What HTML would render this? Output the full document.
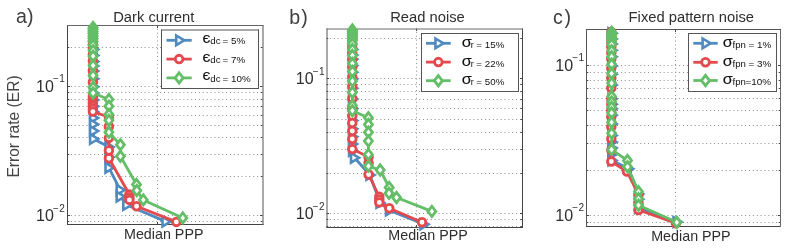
<!DOCTYPE html><html><head><meta charset="utf-8"><style>html,body{margin:0;padding:0;background:#fff;overflow:hidden}svg{display:block;will-change:transform}</style></head><body><svg width="791" height="252" viewBox="0 0 791 252">
<rect width="791" height="252" fill="#fff"/>
<line x1="70.88" y1="221.5" x2="261.00" y2="221.5" stroke="#8c8c8c" stroke-width="1" stroke-dasharray="1 2.88"/>
<line x1="70.88" y1="176.5" x2="261.00" y2="176.5" stroke="#8c8c8c" stroke-width="1" stroke-dasharray="1 2.88"/>
<line x1="70.88" y1="154.5" x2="261.00" y2="154.5" stroke="#8c8c8c" stroke-width="1" stroke-dasharray="1 2.88"/>
<line x1="70.88" y1="137.5" x2="261.00" y2="137.5" stroke="#8c8c8c" stroke-width="1" stroke-dasharray="1 2.88"/>
<line x1="70.88" y1="125.5" x2="261.00" y2="125.5" stroke="#8c8c8c" stroke-width="1" stroke-dasharray="1 2.88"/>
<line x1="70.88" y1="115.5" x2="261.00" y2="115.5" stroke="#8c8c8c" stroke-width="1" stroke-dasharray="1 2.88"/>
<line x1="70.88" y1="106.5" x2="261.00" y2="106.5" stroke="#8c8c8c" stroke-width="1" stroke-dasharray="1 2.88"/>
<line x1="70.88" y1="99.5" x2="261.00" y2="99.5" stroke="#8c8c8c" stroke-width="1" stroke-dasharray="1 2.88"/>
<line x1="70.88" y1="92.5" x2="261.00" y2="92.5" stroke="#8c8c8c" stroke-width="1" stroke-dasharray="1 2.88"/>
<line x1="70.88" y1="47.5" x2="261.00" y2="47.5" stroke="#8c8c8c" stroke-width="1" stroke-dasharray="1 2.88"/>
<line x1="70.88" y1="86.5" x2="261.00" y2="86.5" stroke="#8c8c8c" stroke-width="1" stroke-dasharray="1 2.88"/>
<line x1="70.88" y1="215.5" x2="261.00" y2="215.5" stroke="#8c8c8c" stroke-width="1" stroke-dasharray="1 2.88"/>
<line x1="157.5" y1="28.88" x2="157.5" y2="223.00" stroke="#8c8c8c" stroke-width="1" stroke-dasharray="1 2.88"/>
<line x1="67.5" y1="221.5" x2="69.3" y2="221.5" stroke="#444444" stroke-width="1"/>
<line x1="262.5" y1="221.5" x2="260.7" y2="221.5" stroke="#444444" stroke-width="1"/>
<line x1="67.5" y1="176.5" x2="69.3" y2="176.5" stroke="#444444" stroke-width="1"/>
<line x1="262.5" y1="176.5" x2="260.7" y2="176.5" stroke="#444444" stroke-width="1"/>
<line x1="67.5" y1="154.5" x2="69.3" y2="154.5" stroke="#444444" stroke-width="1"/>
<line x1="262.5" y1="154.5" x2="260.7" y2="154.5" stroke="#444444" stroke-width="1"/>
<line x1="67.5" y1="137.5" x2="69.3" y2="137.5" stroke="#444444" stroke-width="1"/>
<line x1="262.5" y1="137.5" x2="260.7" y2="137.5" stroke="#444444" stroke-width="1"/>
<line x1="67.5" y1="125.5" x2="69.3" y2="125.5" stroke="#444444" stroke-width="1"/>
<line x1="262.5" y1="125.5" x2="260.7" y2="125.5" stroke="#444444" stroke-width="1"/>
<line x1="67.5" y1="115.5" x2="69.3" y2="115.5" stroke="#444444" stroke-width="1"/>
<line x1="262.5" y1="115.5" x2="260.7" y2="115.5" stroke="#444444" stroke-width="1"/>
<line x1="67.5" y1="106.5" x2="69.3" y2="106.5" stroke="#444444" stroke-width="1"/>
<line x1="262.5" y1="106.5" x2="260.7" y2="106.5" stroke="#444444" stroke-width="1"/>
<line x1="67.5" y1="99.5" x2="69.3" y2="99.5" stroke="#444444" stroke-width="1"/>
<line x1="262.5" y1="99.5" x2="260.7" y2="99.5" stroke="#444444" stroke-width="1"/>
<line x1="67.5" y1="92.5" x2="69.3" y2="92.5" stroke="#444444" stroke-width="1"/>
<line x1="262.5" y1="92.5" x2="260.7" y2="92.5" stroke="#444444" stroke-width="1"/>
<line x1="67.5" y1="47.5" x2="69.3" y2="47.5" stroke="#444444" stroke-width="1"/>
<line x1="262.5" y1="47.5" x2="260.7" y2="47.5" stroke="#444444" stroke-width="1"/>
<line x1="67.5" y1="86.5" x2="70.0" y2="86.5" stroke="#444444" stroke-width="1"/>
<line x1="262.5" y1="86.5" x2="260.0" y2="86.5" stroke="#444444" stroke-width="1"/>
<line x1="67.5" y1="215.5" x2="70.0" y2="215.5" stroke="#444444" stroke-width="1"/>
<line x1="262.5" y1="215.5" x2="260.0" y2="215.5" stroke="#444444" stroke-width="1"/>
<line x1="157.5" y1="25.5" x2="157.5" y2="28.0" stroke="#444444" stroke-width="1"/>
<line x1="157.5" y1="224.5" x2="157.5" y2="222.0" stroke="#444444" stroke-width="1"/>
<path d="M67.5,25.0V225.0" fill="none" stroke="#444" stroke-width="1"/>
<path d="M67.0,224.5H263.5" fill="none" stroke="#444" stroke-width="1"/>
<path d="M263.0,225.0V25.0" fill="none" stroke="#555" stroke-width="1"/>
<path d="M263.5,25.5H67.0" fill="none" stroke="#666" stroke-width="1"/>
<line x1="329.88" y1="226.5" x2="521.00" y2="226.5" stroke="#8c8c8c" stroke-width="1" stroke-dasharray="1 2.88"/>
<line x1="329.88" y1="219.5" x2="521.00" y2="219.5" stroke="#8c8c8c" stroke-width="1" stroke-dasharray="1 2.88"/>
<line x1="329.88" y1="173.5" x2="521.00" y2="173.5" stroke="#8c8c8c" stroke-width="1" stroke-dasharray="1 2.88"/>
<line x1="329.88" y1="149.5" x2="521.00" y2="149.5" stroke="#8c8c8c" stroke-width="1" stroke-dasharray="1 2.88"/>
<line x1="329.88" y1="132.5" x2="521.00" y2="132.5" stroke="#8c8c8c" stroke-width="1" stroke-dasharray="1 2.88"/>
<line x1="329.88" y1="119.5" x2="521.00" y2="119.5" stroke="#8c8c8c" stroke-width="1" stroke-dasharray="1 2.88"/>
<line x1="329.88" y1="108.5" x2="521.00" y2="108.5" stroke="#8c8c8c" stroke-width="1" stroke-dasharray="1 2.88"/>
<line x1="329.88" y1="99.5" x2="521.00" y2="99.5" stroke="#8c8c8c" stroke-width="1" stroke-dasharray="1 2.88"/>
<line x1="329.88" y1="91.5" x2="521.00" y2="91.5" stroke="#8c8c8c" stroke-width="1" stroke-dasharray="1 2.88"/>
<line x1="329.88" y1="84.5" x2="521.00" y2="84.5" stroke="#8c8c8c" stroke-width="1" stroke-dasharray="1 2.88"/>
<line x1="329.88" y1="38.5" x2="521.00" y2="38.5" stroke="#8c8c8c" stroke-width="1" stroke-dasharray="1 2.88"/>
<line x1="329.88" y1="78.5" x2="521.00" y2="78.5" stroke="#8c8c8c" stroke-width="1" stroke-dasharray="1 2.88"/>
<line x1="329.88" y1="213.5" x2="521.00" y2="213.5" stroke="#8c8c8c" stroke-width="1" stroke-dasharray="1 2.88"/>
<line x1="416.5" y1="31.88" x2="416.5" y2="226.00" stroke="#8c8c8c" stroke-width="1" stroke-dasharray="1 2.88"/>
<line x1="326.5" y1="226.5" x2="328.3" y2="226.5" stroke="#444444" stroke-width="1"/>
<line x1="522.5" y1="226.5" x2="520.7" y2="226.5" stroke="#444444" stroke-width="1"/>
<line x1="326.5" y1="219.5" x2="328.3" y2="219.5" stroke="#444444" stroke-width="1"/>
<line x1="522.5" y1="219.5" x2="520.7" y2="219.5" stroke="#444444" stroke-width="1"/>
<line x1="326.5" y1="173.5" x2="328.3" y2="173.5" stroke="#444444" stroke-width="1"/>
<line x1="522.5" y1="173.5" x2="520.7" y2="173.5" stroke="#444444" stroke-width="1"/>
<line x1="326.5" y1="149.5" x2="328.3" y2="149.5" stroke="#444444" stroke-width="1"/>
<line x1="522.5" y1="149.5" x2="520.7" y2="149.5" stroke="#444444" stroke-width="1"/>
<line x1="326.5" y1="132.5" x2="328.3" y2="132.5" stroke="#444444" stroke-width="1"/>
<line x1="522.5" y1="132.5" x2="520.7" y2="132.5" stroke="#444444" stroke-width="1"/>
<line x1="326.5" y1="119.5" x2="328.3" y2="119.5" stroke="#444444" stroke-width="1"/>
<line x1="522.5" y1="119.5" x2="520.7" y2="119.5" stroke="#444444" stroke-width="1"/>
<line x1="326.5" y1="108.5" x2="328.3" y2="108.5" stroke="#444444" stroke-width="1"/>
<line x1="522.5" y1="108.5" x2="520.7" y2="108.5" stroke="#444444" stroke-width="1"/>
<line x1="326.5" y1="99.5" x2="328.3" y2="99.5" stroke="#444444" stroke-width="1"/>
<line x1="522.5" y1="99.5" x2="520.7" y2="99.5" stroke="#444444" stroke-width="1"/>
<line x1="326.5" y1="91.5" x2="328.3" y2="91.5" stroke="#444444" stroke-width="1"/>
<line x1="522.5" y1="91.5" x2="520.7" y2="91.5" stroke="#444444" stroke-width="1"/>
<line x1="326.5" y1="84.5" x2="328.3" y2="84.5" stroke="#444444" stroke-width="1"/>
<line x1="522.5" y1="84.5" x2="520.7" y2="84.5" stroke="#444444" stroke-width="1"/>
<line x1="326.5" y1="38.5" x2="328.3" y2="38.5" stroke="#444444" stroke-width="1"/>
<line x1="522.5" y1="38.5" x2="520.7" y2="38.5" stroke="#444444" stroke-width="1"/>
<line x1="326.5" y1="78.5" x2="329.0" y2="78.5" stroke="#444444" stroke-width="1"/>
<line x1="522.5" y1="78.5" x2="520.0" y2="78.5" stroke="#444444" stroke-width="1"/>
<line x1="326.5" y1="213.5" x2="329.0" y2="213.5" stroke="#444444" stroke-width="1"/>
<line x1="522.5" y1="213.5" x2="520.0" y2="213.5" stroke="#444444" stroke-width="1"/>
<line x1="416.5" y1="28.5" x2="416.5" y2="31.0" stroke="#444444" stroke-width="1"/>
<line x1="416.5" y1="227.5" x2="416.5" y2="225.0" stroke="#444444" stroke-width="1"/>
<path d="M327.0,28.5V228.0" fill="none" stroke="#555" stroke-width="1"/>
<path d="M326.5,227.5H523.0" fill="none" stroke="#444" stroke-width="1"/>
<path d="M522.5,228.0V28.5" fill="none" stroke="#444" stroke-width="1"/>
<path d="M523.0,29.0H326.5" fill="none" stroke="#6a6a6a" stroke-width="1"/>
<line x1="589.88" y1="222.5" x2="779.00" y2="222.5" stroke="#8c8c8c" stroke-width="1" stroke-dasharray="1 2.88"/>
<line x1="589.88" y1="170.5" x2="779.00" y2="170.5" stroke="#8c8c8c" stroke-width="1" stroke-dasharray="1 2.88"/>
<line x1="589.88" y1="143.5" x2="779.00" y2="143.5" stroke="#8c8c8c" stroke-width="1" stroke-dasharray="1 2.88"/>
<line x1="589.88" y1="125.5" x2="779.00" y2="125.5" stroke="#8c8c8c" stroke-width="1" stroke-dasharray="1 2.88"/>
<line x1="589.88" y1="110.5" x2="779.00" y2="110.5" stroke="#8c8c8c" stroke-width="1" stroke-dasharray="1 2.88"/>
<line x1="589.88" y1="98.5" x2="779.00" y2="98.5" stroke="#8c8c8c" stroke-width="1" stroke-dasharray="1 2.88"/>
<line x1="589.88" y1="88.5" x2="779.00" y2="88.5" stroke="#8c8c8c" stroke-width="1" stroke-dasharray="1 2.88"/>
<line x1="589.88" y1="80.5" x2="779.00" y2="80.5" stroke="#8c8c8c" stroke-width="1" stroke-dasharray="1 2.88"/>
<line x1="589.88" y1="72.5" x2="779.00" y2="72.5" stroke="#8c8c8c" stroke-width="1" stroke-dasharray="1 2.88"/>
<line x1="589.88" y1="65.5" x2="779.00" y2="65.5" stroke="#8c8c8c" stroke-width="1" stroke-dasharray="1 2.88"/>
<line x1="589.88" y1="215.5" x2="779.00" y2="215.5" stroke="#8c8c8c" stroke-width="1" stroke-dasharray="1 2.88"/>
<line x1="675.5" y1="32.88" x2="675.5" y2="225.00" stroke="#8c8c8c" stroke-width="1" stroke-dasharray="1 2.88"/>
<line x1="586.5" y1="222.5" x2="588.3" y2="222.5" stroke="#444444" stroke-width="1"/>
<line x1="780.5" y1="222.5" x2="778.7" y2="222.5" stroke="#444444" stroke-width="1"/>
<line x1="586.5" y1="170.5" x2="588.3" y2="170.5" stroke="#444444" stroke-width="1"/>
<line x1="780.5" y1="170.5" x2="778.7" y2="170.5" stroke="#444444" stroke-width="1"/>
<line x1="586.5" y1="143.5" x2="588.3" y2="143.5" stroke="#444444" stroke-width="1"/>
<line x1="780.5" y1="143.5" x2="778.7" y2="143.5" stroke="#444444" stroke-width="1"/>
<line x1="586.5" y1="125.5" x2="588.3" y2="125.5" stroke="#444444" stroke-width="1"/>
<line x1="780.5" y1="125.5" x2="778.7" y2="125.5" stroke="#444444" stroke-width="1"/>
<line x1="586.5" y1="110.5" x2="588.3" y2="110.5" stroke="#444444" stroke-width="1"/>
<line x1="780.5" y1="110.5" x2="778.7" y2="110.5" stroke="#444444" stroke-width="1"/>
<line x1="586.5" y1="98.5" x2="588.3" y2="98.5" stroke="#444444" stroke-width="1"/>
<line x1="780.5" y1="98.5" x2="778.7" y2="98.5" stroke="#444444" stroke-width="1"/>
<line x1="586.5" y1="88.5" x2="588.3" y2="88.5" stroke="#444444" stroke-width="1"/>
<line x1="780.5" y1="88.5" x2="778.7" y2="88.5" stroke="#444444" stroke-width="1"/>
<line x1="586.5" y1="80.5" x2="588.3" y2="80.5" stroke="#444444" stroke-width="1"/>
<line x1="780.5" y1="80.5" x2="778.7" y2="80.5" stroke="#444444" stroke-width="1"/>
<line x1="586.5" y1="72.5" x2="588.3" y2="72.5" stroke="#444444" stroke-width="1"/>
<line x1="780.5" y1="72.5" x2="778.7" y2="72.5" stroke="#444444" stroke-width="1"/>
<line x1="586.5" y1="65.5" x2="589.0" y2="65.5" stroke="#444444" stroke-width="1"/>
<line x1="780.5" y1="65.5" x2="778.0" y2="65.5" stroke="#444444" stroke-width="1"/>
<line x1="586.5" y1="215.5" x2="589.0" y2="215.5" stroke="#444444" stroke-width="1"/>
<line x1="780.5" y1="215.5" x2="778.0" y2="215.5" stroke="#444444" stroke-width="1"/>
<line x1="675.5" y1="29.5" x2="675.5" y2="32.0" stroke="#444444" stroke-width="1"/>
<line x1="675.5" y1="226.5" x2="675.5" y2="224.0" stroke="#444444" stroke-width="1"/>
<path d="M586.5,29.0V227.0" fill="none" stroke="#555" stroke-width="1"/>
<path d="M586.0,226.5H781.0" fill="none" stroke="#444" stroke-width="1"/>
<path d="M780.5,227.0V29.0" fill="none" stroke="#666" stroke-width="1"/>
<path d="M781.0,29.5H586.0" fill="none" stroke="#555" stroke-width="1"/>
<text x="36.0" y="91.8" font-size="16" fill="#2e2e2e" font-family="Liberation Sans, sans-serif">10<tspan font-size="10" dy="-9.4" dx="-0.9">&#8722;</tspan><tspan font-size="10" dx="0.5">1</tspan></text>
<text x="36.0" y="221.0" font-size="16" fill="#2e2e2e" font-family="Liberation Sans, sans-serif">10<tspan font-size="10" dy="-9.4" dx="-0.9">&#8722;</tspan><tspan font-size="10" dx="0.5">2</tspan></text>
<text x="295.8" y="84.0" font-size="16" fill="#2e2e2e" font-family="Liberation Sans, sans-serif">10<tspan font-size="10" dy="-9.4" dx="-0.9">&#8722;</tspan><tspan font-size="10" dx="0.5">1</tspan></text>
<text x="295.8" y="219.0" font-size="16" fill="#2e2e2e" font-family="Liberation Sans, sans-serif">10<tspan font-size="10" dy="-9.4" dx="-0.9">&#8722;</tspan><tspan font-size="10" dx="0.5">2</tspan></text>
<text x="555.3" y="70.8" font-size="16" fill="#2e2e2e" font-family="Liberation Sans, sans-serif">10<tspan font-size="10" dy="-9.4" dx="-0.9">&#8722;</tspan><tspan font-size="10" dx="0.5">1</tspan></text>
<text x="555.3" y="220.8" font-size="16" fill="#2e2e2e" font-family="Liberation Sans, sans-serif">10<tspan font-size="10" dy="-9.4" dx="-0.9">&#8722;</tspan><tspan font-size="10" dx="0.5">2</tspan></text>
<path d="M93.60,49.50 L93.60,55.50 L93.60,61.60 L93.60,65.90 L93.60,71.10 L93.60,78.80 L93.60,86.70 L93.60,93.00 L93.60,100.00 L93.60,106.30 L93.60,112.00 L93.60,118.00 L93.60,124.30 L93.60,131.00 L93.60,139.00 L109.00,147.00 L109.00,157.00 L109.00,167.80 L120.20,190.00 L120.20,196.60 L126.80,205.00 L166.00,221.60" fill="none" stroke="#4f8ac0" stroke-width="2.8" stroke-linejoin="round" stroke-linecap="round"/>
<path d="M90.10,44.70L98.10,49.50L90.10,54.30Z" fill="#fff" stroke="#4f8ac0" stroke-width="2.6" stroke-linejoin="miter"/>
<path d="M90.10,50.70L98.10,55.50L90.10,60.30Z" fill="#fff" stroke="#4f8ac0" stroke-width="2.6" stroke-linejoin="miter"/>
<path d="M90.10,56.80L98.10,61.60L90.10,66.40Z" fill="#fff" stroke="#4f8ac0" stroke-width="2.6" stroke-linejoin="miter"/>
<path d="M90.10,61.10L98.10,65.90L90.10,70.70Z" fill="#fff" stroke="#4f8ac0" stroke-width="2.6" stroke-linejoin="miter"/>
<path d="M90.10,66.30L98.10,71.10L90.10,75.90Z" fill="#fff" stroke="#4f8ac0" stroke-width="2.6" stroke-linejoin="miter"/>
<path d="M90.10,74.00L98.10,78.80L90.10,83.60Z" fill="#fff" stroke="#4f8ac0" stroke-width="2.6" stroke-linejoin="miter"/>
<path d="M90.10,81.90L98.10,86.70L90.10,91.50Z" fill="#fff" stroke="#4f8ac0" stroke-width="2.6" stroke-linejoin="miter"/>
<path d="M90.10,88.20L98.10,93.00L90.10,97.80Z" fill="#fff" stroke="#4f8ac0" stroke-width="2.6" stroke-linejoin="miter"/>
<path d="M90.10,95.20L98.10,100.00L90.10,104.80Z" fill="#fff" stroke="#4f8ac0" stroke-width="2.6" stroke-linejoin="miter"/>
<path d="M90.10,101.50L98.10,106.30L90.10,111.10Z" fill="#fff" stroke="#4f8ac0" stroke-width="2.6" stroke-linejoin="miter"/>
<path d="M90.10,107.20L98.10,112.00L90.10,116.80Z" fill="#fff" stroke="#4f8ac0" stroke-width="2.6" stroke-linejoin="miter"/>
<path d="M90.10,113.20L98.10,118.00L90.10,122.80Z" fill="#fff" stroke="#4f8ac0" stroke-width="2.6" stroke-linejoin="miter"/>
<path d="M90.10,119.50L98.10,124.30L90.10,129.10Z" fill="#fff" stroke="#4f8ac0" stroke-width="2.6" stroke-linejoin="miter"/>
<path d="M90.10,126.20L98.10,131.00L90.10,135.80Z" fill="#fff" stroke="#4f8ac0" stroke-width="2.6" stroke-linejoin="miter"/>
<path d="M90.10,134.20L98.10,139.00L90.10,143.80Z" fill="#fff" stroke="#4f8ac0" stroke-width="2.6" stroke-linejoin="miter"/>
<path d="M105.50,142.20L113.50,147.00L105.50,151.80Z" fill="#fff" stroke="#4f8ac0" stroke-width="2.6" stroke-linejoin="miter"/>
<path d="M105.50,152.20L113.50,157.00L105.50,161.80Z" fill="#fff" stroke="#4f8ac0" stroke-width="2.6" stroke-linejoin="miter"/>
<path d="M105.50,163.00L113.50,167.80L105.50,172.60Z" fill="#fff" stroke="#4f8ac0" stroke-width="2.6" stroke-linejoin="miter"/>
<path d="M116.70,185.20L124.70,190.00L116.70,194.80Z" fill="#fff" stroke="#4f8ac0" stroke-width="2.6" stroke-linejoin="miter"/>
<path d="M116.70,191.80L124.70,196.60L116.70,201.40Z" fill="#fff" stroke="#4f8ac0" stroke-width="2.6" stroke-linejoin="miter"/>
<path d="M123.30,200.20L131.30,205.00L123.30,209.80Z" fill="#fff" stroke="#4f8ac0" stroke-width="2.6" stroke-linejoin="miter"/>
<path d="M162.50,216.80L170.50,221.60L162.50,226.40Z" fill="#fff" stroke="#4f8ac0" stroke-width="2.6" stroke-linejoin="miter"/>
<path d="M92.90,29.00 L92.90,33.00 L92.90,37.00 L92.90,41.00 L92.90,44.50 L92.90,48.00 L92.90,54.50 L92.90,61.00 L92.90,70.70 L92.90,82.30 L92.90,96.00 L92.90,98.50 L92.90,101.00 L92.90,103.50 L92.90,106.00 L92.90,108.60 L92.90,111.60 L108.90,117.00 L108.90,126.50 L108.90,137.90 L108.90,150.50 L108.90,158.20 L129.40,194.50 L129.40,197.20 L129.40,199.90 L136.60,206.20 L176.30,221.90" fill="none" stroke="#e34a4e" stroke-width="2.8" stroke-linejoin="round" stroke-linecap="round"/>
<circle cx="92.90" cy="29.00" r="3.85" fill="#fff" stroke="#e34a4e" stroke-width="2.8"/>
<circle cx="92.90" cy="33.00" r="3.85" fill="#fff" stroke="#e34a4e" stroke-width="2.8"/>
<circle cx="92.90" cy="37.00" r="3.85" fill="#fff" stroke="#e34a4e" stroke-width="2.8"/>
<circle cx="92.90" cy="41.00" r="3.85" fill="#fff" stroke="#e34a4e" stroke-width="2.8"/>
<circle cx="92.90" cy="44.50" r="3.85" fill="#fff" stroke="#e34a4e" stroke-width="2.8"/>
<circle cx="92.90" cy="48.00" r="3.85" fill="#fff" stroke="#e34a4e" stroke-width="2.8"/>
<circle cx="92.90" cy="54.50" r="3.85" fill="#fff" stroke="#e34a4e" stroke-width="2.8"/>
<circle cx="92.90" cy="61.00" r="3.85" fill="#fff" stroke="#e34a4e" stroke-width="2.8"/>
<circle cx="92.90" cy="70.70" r="3.85" fill="#fff" stroke="#e34a4e" stroke-width="2.8"/>
<circle cx="92.90" cy="82.30" r="3.85" fill="#fff" stroke="#e34a4e" stroke-width="2.8"/>
<circle cx="92.90" cy="96.00" r="3.85" fill="#fff" stroke="#e34a4e" stroke-width="2.8"/>
<circle cx="92.90" cy="98.50" r="3.85" fill="#fff" stroke="#e34a4e" stroke-width="2.8"/>
<circle cx="92.90" cy="101.00" r="3.85" fill="#fff" stroke="#e34a4e" stroke-width="2.8"/>
<circle cx="92.90" cy="103.50" r="3.85" fill="#fff" stroke="#e34a4e" stroke-width="2.8"/>
<circle cx="92.90" cy="106.00" r="3.85" fill="#fff" stroke="#e34a4e" stroke-width="2.8"/>
<circle cx="92.90" cy="108.60" r="3.85" fill="#fff" stroke="#e34a4e" stroke-width="2.8"/>
<circle cx="92.90" cy="111.60" r="3.85" fill="#fff" stroke="#e34a4e" stroke-width="2.8"/>
<circle cx="108.90" cy="117.00" r="3.85" fill="#fff" stroke="#e34a4e" stroke-width="2.8"/>
<circle cx="108.90" cy="126.50" r="3.85" fill="#fff" stroke="#e34a4e" stroke-width="2.8"/>
<circle cx="108.90" cy="137.90" r="3.85" fill="#fff" stroke="#e34a4e" stroke-width="2.8"/>
<circle cx="108.90" cy="150.50" r="3.85" fill="#fff" stroke="#e34a4e" stroke-width="2.8"/>
<circle cx="108.90" cy="158.20" r="3.85" fill="#fff" stroke="#e34a4e" stroke-width="2.8"/>
<circle cx="129.40" cy="194.50" r="3.85" fill="#fff" stroke="#e34a4e" stroke-width="2.8"/>
<circle cx="129.40" cy="197.20" r="3.85" fill="#fff" stroke="#e34a4e" stroke-width="2.8"/>
<circle cx="129.40" cy="199.90" r="3.85" fill="#fff" stroke="#e34a4e" stroke-width="2.8"/>
<circle cx="136.60" cy="206.20" r="3.85" fill="#fff" stroke="#e34a4e" stroke-width="2.8"/>
<circle cx="176.30" cy="221.90" r="3.85" fill="#fff" stroke="#e34a4e" stroke-width="2.8"/>
<path d="M93.10,27.50 L93.10,29.50 L93.10,31.50 L93.10,33.50 L93.10,36.00 L93.10,38.50 L93.10,41.50 L93.10,45.20 L93.10,50.60 L93.10,56.20 L93.10,65.50 L93.10,75.50 L93.10,87.50 L93.10,93.00 L108.90,99.50 L108.90,106.30 L108.90,114.40 L108.90,120.30 L108.90,132.30 L120.40,144.80 L120.40,156.30 L136.50,184.50 L136.80,190.50 L143.30,199.90 L182.80,217.90" fill="none" stroke="#64be67" stroke-width="2.8" stroke-linejoin="round" stroke-linecap="round"/>
<path d="M93.10,22.35L97.10,27.50L93.10,32.65L89.10,27.50Z" fill="#fff" stroke="#64be67" stroke-width="2.8" stroke-linejoin="miter"/>
<path d="M93.10,24.35L97.10,29.50L93.10,34.65L89.10,29.50Z" fill="#fff" stroke="#64be67" stroke-width="2.8" stroke-linejoin="miter"/>
<path d="M93.10,26.35L97.10,31.50L93.10,36.65L89.10,31.50Z" fill="#fff" stroke="#64be67" stroke-width="2.8" stroke-linejoin="miter"/>
<path d="M93.10,28.35L97.10,33.50L93.10,38.65L89.10,33.50Z" fill="#fff" stroke="#64be67" stroke-width="2.8" stroke-linejoin="miter"/>
<path d="M93.10,30.85L97.10,36.00L93.10,41.15L89.10,36.00Z" fill="#fff" stroke="#64be67" stroke-width="2.8" stroke-linejoin="miter"/>
<path d="M93.10,33.35L97.10,38.50L93.10,43.65L89.10,38.50Z" fill="#fff" stroke="#64be67" stroke-width="2.8" stroke-linejoin="miter"/>
<path d="M93.10,36.35L97.10,41.50L93.10,46.65L89.10,41.50Z" fill="#fff" stroke="#64be67" stroke-width="2.8" stroke-linejoin="miter"/>
<path d="M93.10,40.05L97.10,45.20L93.10,50.35L89.10,45.20Z" fill="#fff" stroke="#64be67" stroke-width="2.8" stroke-linejoin="miter"/>
<path d="M93.10,45.45L97.10,50.60L93.10,55.75L89.10,50.60Z" fill="#fff" stroke="#64be67" stroke-width="2.8" stroke-linejoin="miter"/>
<path d="M93.10,51.05L97.10,56.20L93.10,61.35L89.10,56.20Z" fill="#fff" stroke="#64be67" stroke-width="2.8" stroke-linejoin="miter"/>
<path d="M93.10,60.35L97.10,65.50L93.10,70.65L89.10,65.50Z" fill="#fff" stroke="#64be67" stroke-width="2.8" stroke-linejoin="miter"/>
<path d="M93.10,70.35L97.10,75.50L93.10,80.65L89.10,75.50Z" fill="#fff" stroke="#64be67" stroke-width="2.8" stroke-linejoin="miter"/>
<path d="M93.10,82.35L97.10,87.50L93.10,92.65L89.10,87.50Z" fill="#fff" stroke="#64be67" stroke-width="2.8" stroke-linejoin="miter"/>
<path d="M93.10,87.85L97.10,93.00L93.10,98.15L89.10,93.00Z" fill="#fff" stroke="#64be67" stroke-width="2.8" stroke-linejoin="miter"/>
<path d="M108.90,94.35L112.90,99.50L108.90,104.65L104.90,99.50Z" fill="#fff" stroke="#64be67" stroke-width="2.8" stroke-linejoin="miter"/>
<path d="M108.90,101.15L112.90,106.30L108.90,111.45L104.90,106.30Z" fill="#fff" stroke="#64be67" stroke-width="2.8" stroke-linejoin="miter"/>
<path d="M108.90,109.25L112.90,114.40L108.90,119.55L104.90,114.40Z" fill="#fff" stroke="#64be67" stroke-width="2.8" stroke-linejoin="miter"/>
<path d="M108.90,115.15L112.90,120.30L108.90,125.45L104.90,120.30Z" fill="#fff" stroke="#64be67" stroke-width="2.8" stroke-linejoin="miter"/>
<path d="M108.90,127.15L112.90,132.30L108.90,137.45L104.90,132.30Z" fill="#fff" stroke="#64be67" stroke-width="2.8" stroke-linejoin="miter"/>
<path d="M120.40,139.65L124.40,144.80L120.40,149.95L116.40,144.80Z" fill="#fff" stroke="#64be67" stroke-width="2.8" stroke-linejoin="miter"/>
<path d="M120.40,151.15L124.40,156.30L120.40,161.45L116.40,156.30Z" fill="#fff" stroke="#64be67" stroke-width="2.8" stroke-linejoin="miter"/>
<path d="M136.50,179.35L140.50,184.50L136.50,189.65L132.50,184.50Z" fill="#fff" stroke="#64be67" stroke-width="2.8" stroke-linejoin="miter"/>
<path d="M136.80,185.35L140.80,190.50L136.80,195.65L132.80,190.50Z" fill="#fff" stroke="#64be67" stroke-width="2.8" stroke-linejoin="miter"/>
<path d="M143.30,194.75L147.30,199.90L143.30,205.05L139.30,199.90Z" fill="#fff" stroke="#64be67" stroke-width="2.8" stroke-linejoin="miter"/>
<path d="M182.80,212.75L186.80,217.90L182.80,223.05L178.80,217.90Z" fill="#fff" stroke="#64be67" stroke-width="2.8" stroke-linejoin="miter"/>
<path d="M352.60,49.50 L352.60,55.10 L352.60,59.20 L352.60,65.50 L352.60,72.30 L352.60,78.80 L352.60,88.30 L352.60,99.10 L352.60,108.60 L352.60,120.50 L352.60,128.70 L352.60,136.70 L352.60,144.00 L352.60,151.00 L354.50,157.80 L370.00,175.00 L380.00,203.00 L389.50,210.50 L424.00,224.30" fill="none" stroke="#4f8ac0" stroke-width="2.8" stroke-linejoin="round" stroke-linecap="round"/>
<path d="M349.10,44.70L357.10,49.50L349.10,54.30Z" fill="#fff" stroke="#4f8ac0" stroke-width="2.6" stroke-linejoin="miter"/>
<path d="M349.10,50.30L357.10,55.10L349.10,59.90Z" fill="#fff" stroke="#4f8ac0" stroke-width="2.6" stroke-linejoin="miter"/>
<path d="M349.10,54.40L357.10,59.20L349.10,64.00Z" fill="#fff" stroke="#4f8ac0" stroke-width="2.6" stroke-linejoin="miter"/>
<path d="M349.10,60.70L357.10,65.50L349.10,70.30Z" fill="#fff" stroke="#4f8ac0" stroke-width="2.6" stroke-linejoin="miter"/>
<path d="M349.10,67.50L357.10,72.30L349.10,77.10Z" fill="#fff" stroke="#4f8ac0" stroke-width="2.6" stroke-linejoin="miter"/>
<path d="M349.10,74.00L357.10,78.80L349.10,83.60Z" fill="#fff" stroke="#4f8ac0" stroke-width="2.6" stroke-linejoin="miter"/>
<path d="M349.10,83.50L357.10,88.30L349.10,93.10Z" fill="#fff" stroke="#4f8ac0" stroke-width="2.6" stroke-linejoin="miter"/>
<path d="M349.10,94.30L357.10,99.10L349.10,103.90Z" fill="#fff" stroke="#4f8ac0" stroke-width="2.6" stroke-linejoin="miter"/>
<path d="M349.10,103.80L357.10,108.60L349.10,113.40Z" fill="#fff" stroke="#4f8ac0" stroke-width="2.6" stroke-linejoin="miter"/>
<path d="M349.10,115.70L357.10,120.50L349.10,125.30Z" fill="#fff" stroke="#4f8ac0" stroke-width="2.6" stroke-linejoin="miter"/>
<path d="M349.10,123.90L357.10,128.70L349.10,133.50Z" fill="#fff" stroke="#4f8ac0" stroke-width="2.6" stroke-linejoin="miter"/>
<path d="M349.10,131.90L357.10,136.70L349.10,141.50Z" fill="#fff" stroke="#4f8ac0" stroke-width="2.6" stroke-linejoin="miter"/>
<path d="M349.10,139.20L357.10,144.00L349.10,148.80Z" fill="#fff" stroke="#4f8ac0" stroke-width="2.6" stroke-linejoin="miter"/>
<path d="M349.10,146.20L357.10,151.00L349.10,155.80Z" fill="#fff" stroke="#4f8ac0" stroke-width="2.6" stroke-linejoin="miter"/>
<path d="M351.00,153.00L359.00,157.80L351.00,162.60Z" fill="#fff" stroke="#4f8ac0" stroke-width="2.6" stroke-linejoin="miter"/>
<path d="M366.50,170.20L374.50,175.00L366.50,179.80Z" fill="#fff" stroke="#4f8ac0" stroke-width="2.6" stroke-linejoin="miter"/>
<path d="M376.50,198.20L384.50,203.00L376.50,207.80Z" fill="#fff" stroke="#4f8ac0" stroke-width="2.6" stroke-linejoin="miter"/>
<path d="M386.00,205.70L394.00,210.50L386.00,215.30Z" fill="#fff" stroke="#4f8ac0" stroke-width="2.6" stroke-linejoin="miter"/>
<path d="M420.50,219.50L428.50,224.30L420.50,229.10Z" fill="#fff" stroke="#4f8ac0" stroke-width="2.6" stroke-linejoin="miter"/>
<path d="M352.30,32.00 L352.30,36.00 L352.30,40.00 L352.30,44.00 L352.30,48.00 L352.30,53.00 L352.30,59.20 L352.30,67.10 L352.30,77.20 L352.30,86.70 L352.30,98.50 L352.30,108.00 L352.30,116.00 L352.30,123.00 L352.30,131.00 L352.30,139.00 L352.30,149.10 L368.60,157.10 L368.60,163.00 L368.60,174.50 L379.30,196.80 L379.30,199.60 L379.30,202.40 L389.30,208.30 L422.00,222.20" fill="none" stroke="#e34a4e" stroke-width="2.8" stroke-linejoin="round" stroke-linecap="round"/>
<circle cx="352.30" cy="32.00" r="3.85" fill="#fff" stroke="#e34a4e" stroke-width="2.8"/>
<circle cx="352.30" cy="36.00" r="3.85" fill="#fff" stroke="#e34a4e" stroke-width="2.8"/>
<circle cx="352.30" cy="40.00" r="3.85" fill="#fff" stroke="#e34a4e" stroke-width="2.8"/>
<circle cx="352.30" cy="44.00" r="3.85" fill="#fff" stroke="#e34a4e" stroke-width="2.8"/>
<circle cx="352.30" cy="48.00" r="3.85" fill="#fff" stroke="#e34a4e" stroke-width="2.8"/>
<circle cx="352.30" cy="53.00" r="3.85" fill="#fff" stroke="#e34a4e" stroke-width="2.8"/>
<circle cx="352.30" cy="59.20" r="3.85" fill="#fff" stroke="#e34a4e" stroke-width="2.8"/>
<circle cx="352.30" cy="67.10" r="3.85" fill="#fff" stroke="#e34a4e" stroke-width="2.8"/>
<circle cx="352.30" cy="77.20" r="3.85" fill="#fff" stroke="#e34a4e" stroke-width="2.8"/>
<circle cx="352.30" cy="86.70" r="3.85" fill="#fff" stroke="#e34a4e" stroke-width="2.8"/>
<circle cx="352.30" cy="98.50" r="3.85" fill="#fff" stroke="#e34a4e" stroke-width="2.8"/>
<circle cx="352.30" cy="108.00" r="3.85" fill="#fff" stroke="#e34a4e" stroke-width="2.8"/>
<circle cx="352.30" cy="116.00" r="3.85" fill="#fff" stroke="#e34a4e" stroke-width="2.8"/>
<circle cx="352.30" cy="123.00" r="3.85" fill="#fff" stroke="#e34a4e" stroke-width="2.8"/>
<circle cx="352.30" cy="131.00" r="3.85" fill="#fff" stroke="#e34a4e" stroke-width="2.8"/>
<circle cx="352.30" cy="139.00" r="3.85" fill="#fff" stroke="#e34a4e" stroke-width="2.8"/>
<circle cx="352.30" cy="149.10" r="3.85" fill="#fff" stroke="#e34a4e" stroke-width="2.8"/>
<circle cx="368.60" cy="157.10" r="3.85" fill="#fff" stroke="#e34a4e" stroke-width="2.8"/>
<circle cx="368.60" cy="163.00" r="3.85" fill="#fff" stroke="#e34a4e" stroke-width="2.8"/>
<circle cx="368.60" cy="174.50" r="3.85" fill="#fff" stroke="#e34a4e" stroke-width="2.8"/>
<circle cx="379.30" cy="196.80" r="3.85" fill="#fff" stroke="#e34a4e" stroke-width="2.8"/>
<circle cx="379.30" cy="199.60" r="3.85" fill="#fff" stroke="#e34a4e" stroke-width="2.8"/>
<circle cx="379.30" cy="202.40" r="3.85" fill="#fff" stroke="#e34a4e" stroke-width="2.8"/>
<circle cx="389.30" cy="208.30" r="3.85" fill="#fff" stroke="#e34a4e" stroke-width="2.8"/>
<circle cx="422.00" cy="222.20" r="3.85" fill="#fff" stroke="#e34a4e" stroke-width="2.8"/>
<path d="M352.40,29.90 L352.40,31.00 L352.40,32.00 L352.40,33.50 L352.40,35.00 L352.40,36.50 L352.40,38.50 L352.40,40.50 L352.40,44.00 L352.40,49.50 L352.40,55.50 L352.40,63.50 L352.40,71.50 L352.40,81.10 L352.40,92.30 L352.40,105.50 L352.40,110.70 L368.40,117.80 L368.40,124.50 L368.40,132.30 L368.40,141.00 L368.40,154.50 L368.40,166.10 L380.20,170.00 L389.20,187.50 L389.00,193.30 L396.50,197.50 L431.90,211.40" fill="none" stroke="#64be67" stroke-width="2.8" stroke-linejoin="round" stroke-linecap="round"/>
<path d="M352.40,24.75L356.40,29.90L352.40,35.05L348.40,29.90Z" fill="#fff" stroke="#64be67" stroke-width="2.8" stroke-linejoin="miter"/>
<path d="M352.40,25.85L356.40,31.00L352.40,36.15L348.40,31.00Z" fill="#fff" stroke="#64be67" stroke-width="2.8" stroke-linejoin="miter"/>
<path d="M352.40,26.85L356.40,32.00L352.40,37.15L348.40,32.00Z" fill="#fff" stroke="#64be67" stroke-width="2.8" stroke-linejoin="miter"/>
<path d="M352.40,28.35L356.40,33.50L352.40,38.65L348.40,33.50Z" fill="#fff" stroke="#64be67" stroke-width="2.8" stroke-linejoin="miter"/>
<path d="M352.40,29.85L356.40,35.00L352.40,40.15L348.40,35.00Z" fill="#fff" stroke="#64be67" stroke-width="2.8" stroke-linejoin="miter"/>
<path d="M352.40,31.35L356.40,36.50L352.40,41.65L348.40,36.50Z" fill="#fff" stroke="#64be67" stroke-width="2.8" stroke-linejoin="miter"/>
<path d="M352.40,33.35L356.40,38.50L352.40,43.65L348.40,38.50Z" fill="#fff" stroke="#64be67" stroke-width="2.8" stroke-linejoin="miter"/>
<path d="M352.40,35.35L356.40,40.50L352.40,45.65L348.40,40.50Z" fill="#fff" stroke="#64be67" stroke-width="2.8" stroke-linejoin="miter"/>
<path d="M352.40,38.85L356.40,44.00L352.40,49.15L348.40,44.00Z" fill="#fff" stroke="#64be67" stroke-width="2.8" stroke-linejoin="miter"/>
<path d="M352.40,44.35L356.40,49.50L352.40,54.65L348.40,49.50Z" fill="#fff" stroke="#64be67" stroke-width="2.8" stroke-linejoin="miter"/>
<path d="M352.40,50.35L356.40,55.50L352.40,60.65L348.40,55.50Z" fill="#fff" stroke="#64be67" stroke-width="2.8" stroke-linejoin="miter"/>
<path d="M352.40,58.35L356.40,63.50L352.40,68.65L348.40,63.50Z" fill="#fff" stroke="#64be67" stroke-width="2.8" stroke-linejoin="miter"/>
<path d="M352.40,66.35L356.40,71.50L352.40,76.65L348.40,71.50Z" fill="#fff" stroke="#64be67" stroke-width="2.8" stroke-linejoin="miter"/>
<path d="M352.40,75.95L356.40,81.10L352.40,86.25L348.40,81.10Z" fill="#fff" stroke="#64be67" stroke-width="2.8" stroke-linejoin="miter"/>
<path d="M352.40,87.15L356.40,92.30L352.40,97.45L348.40,92.30Z" fill="#fff" stroke="#64be67" stroke-width="2.8" stroke-linejoin="miter"/>
<path d="M352.40,100.35L356.40,105.50L352.40,110.65L348.40,105.50Z" fill="#fff" stroke="#64be67" stroke-width="2.8" stroke-linejoin="miter"/>
<path d="M352.40,105.55L356.40,110.70L352.40,115.85L348.40,110.70Z" fill="#fff" stroke="#64be67" stroke-width="2.8" stroke-linejoin="miter"/>
<path d="M368.40,112.65L372.40,117.80L368.40,122.95L364.40,117.80Z" fill="#fff" stroke="#64be67" stroke-width="2.8" stroke-linejoin="miter"/>
<path d="M368.40,119.35L372.40,124.50L368.40,129.65L364.40,124.50Z" fill="#fff" stroke="#64be67" stroke-width="2.8" stroke-linejoin="miter"/>
<path d="M368.40,127.15L372.40,132.30L368.40,137.45L364.40,132.30Z" fill="#fff" stroke="#64be67" stroke-width="2.8" stroke-linejoin="miter"/>
<path d="M368.40,135.85L372.40,141.00L368.40,146.15L364.40,141.00Z" fill="#fff" stroke="#64be67" stroke-width="2.8" stroke-linejoin="miter"/>
<path d="M368.40,149.35L372.40,154.50L368.40,159.65L364.40,154.50Z" fill="#fff" stroke="#64be67" stroke-width="2.8" stroke-linejoin="miter"/>
<path d="M368.40,160.95L372.40,166.10L368.40,171.25L364.40,166.10Z" fill="#fff" stroke="#64be67" stroke-width="2.8" stroke-linejoin="miter"/>
<path d="M380.20,164.85L384.20,170.00L380.20,175.15L376.20,170.00Z" fill="#fff" stroke="#64be67" stroke-width="2.8" stroke-linejoin="miter"/>
<path d="M389.20,182.35L393.20,187.50L389.20,192.65L385.20,187.50Z" fill="#fff" stroke="#64be67" stroke-width="2.8" stroke-linejoin="miter"/>
<path d="M389.00,188.15L393.00,193.30L389.00,198.45L385.00,193.30Z" fill="#fff" stroke="#64be67" stroke-width="2.8" stroke-linejoin="miter"/>
<path d="M396.50,192.35L400.50,197.50L396.50,202.65L392.50,197.50Z" fill="#fff" stroke="#64be67" stroke-width="2.8" stroke-linejoin="miter"/>
<path d="M431.90,206.25L435.90,211.40L431.90,216.55L427.90,211.40Z" fill="#fff" stroke="#64be67" stroke-width="2.8" stroke-linejoin="miter"/>
<path d="M612.00,33.20 L612.00,39.10 L612.00,44.00 L612.00,50.30 L612.00,56.70 L612.00,65.90 L612.00,74.30 L612.00,85.10 L612.00,98.80 L612.00,104.30 L612.00,108.70 L612.00,115.20 L612.00,123.90 L612.00,135.60 L612.00,141.90 L612.00,147.90 L612.00,154.30 L612.00,160.50 L628.70,168.80 L638.60,193.90 L638.60,199.30 L638.60,208.00 L677.00,222.00" fill="none" stroke="#4f8ac0" stroke-width="2.8" stroke-linejoin="round" stroke-linecap="round"/>
<path d="M608.50,28.40L616.50,33.20L608.50,38.00Z" fill="#fff" stroke="#4f8ac0" stroke-width="2.6" stroke-linejoin="miter"/>
<path d="M608.50,34.30L616.50,39.10L608.50,43.90Z" fill="#fff" stroke="#4f8ac0" stroke-width="2.6" stroke-linejoin="miter"/>
<path d="M608.50,39.20L616.50,44.00L608.50,48.80Z" fill="#fff" stroke="#4f8ac0" stroke-width="2.6" stroke-linejoin="miter"/>
<path d="M608.50,45.50L616.50,50.30L608.50,55.10Z" fill="#fff" stroke="#4f8ac0" stroke-width="2.6" stroke-linejoin="miter"/>
<path d="M608.50,51.90L616.50,56.70L608.50,61.50Z" fill="#fff" stroke="#4f8ac0" stroke-width="2.6" stroke-linejoin="miter"/>
<path d="M608.50,61.10L616.50,65.90L608.50,70.70Z" fill="#fff" stroke="#4f8ac0" stroke-width="2.6" stroke-linejoin="miter"/>
<path d="M608.50,69.50L616.50,74.30L608.50,79.10Z" fill="#fff" stroke="#4f8ac0" stroke-width="2.6" stroke-linejoin="miter"/>
<path d="M608.50,80.30L616.50,85.10L608.50,89.90Z" fill="#fff" stroke="#4f8ac0" stroke-width="2.6" stroke-linejoin="miter"/>
<path d="M608.50,94.00L616.50,98.80L608.50,103.60Z" fill="#fff" stroke="#4f8ac0" stroke-width="2.6" stroke-linejoin="miter"/>
<path d="M608.50,99.50L616.50,104.30L608.50,109.10Z" fill="#fff" stroke="#4f8ac0" stroke-width="2.6" stroke-linejoin="miter"/>
<path d="M608.50,103.90L616.50,108.70L608.50,113.50Z" fill="#fff" stroke="#4f8ac0" stroke-width="2.6" stroke-linejoin="miter"/>
<path d="M608.50,110.40L616.50,115.20L608.50,120.00Z" fill="#fff" stroke="#4f8ac0" stroke-width="2.6" stroke-linejoin="miter"/>
<path d="M608.50,119.10L616.50,123.90L608.50,128.70Z" fill="#fff" stroke="#4f8ac0" stroke-width="2.6" stroke-linejoin="miter"/>
<path d="M608.50,130.80L616.50,135.60L608.50,140.40Z" fill="#fff" stroke="#4f8ac0" stroke-width="2.6" stroke-linejoin="miter"/>
<path d="M608.50,137.10L616.50,141.90L608.50,146.70Z" fill="#fff" stroke="#4f8ac0" stroke-width="2.6" stroke-linejoin="miter"/>
<path d="M608.50,143.10L616.50,147.90L608.50,152.70Z" fill="#fff" stroke="#4f8ac0" stroke-width="2.6" stroke-linejoin="miter"/>
<path d="M608.50,149.50L616.50,154.30L608.50,159.10Z" fill="#fff" stroke="#4f8ac0" stroke-width="2.6" stroke-linejoin="miter"/>
<path d="M608.50,155.70L616.50,160.50L608.50,165.30Z" fill="#fff" stroke="#4f8ac0" stroke-width="2.6" stroke-linejoin="miter"/>
<path d="M625.20,164.00L633.20,168.80L625.20,173.60Z" fill="#fff" stroke="#4f8ac0" stroke-width="2.6" stroke-linejoin="miter"/>
<path d="M635.10,189.10L643.10,193.90L635.10,198.70Z" fill="#fff" stroke="#4f8ac0" stroke-width="2.6" stroke-linejoin="miter"/>
<path d="M635.10,194.50L643.10,199.30L635.10,204.10Z" fill="#fff" stroke="#4f8ac0" stroke-width="2.6" stroke-linejoin="miter"/>
<path d="M635.10,203.20L643.10,208.00L635.10,212.80Z" fill="#fff" stroke="#4f8ac0" stroke-width="2.6" stroke-linejoin="miter"/>
<path d="M673.50,217.20L681.50,222.00L673.50,226.80Z" fill="#fff" stroke="#4f8ac0" stroke-width="2.6" stroke-linejoin="miter"/>
<path d="M611.30,32.00 L611.30,36.00 L611.30,40.00 L611.30,43.50 L611.30,46.70 L611.30,52.70 L611.30,59.00 L611.30,68.30 L611.30,78.00 L611.30,87.90 L611.30,98.80 L611.30,104.30 L611.30,110.30 L611.30,116.80 L611.30,126.70 L611.30,138.70 L611.30,150.00 L611.30,161.50 L627.00,171.50 L638.50,195.00 L638.50,203.00 L638.50,210.00 L676.00,223.20" fill="none" stroke="#e34a4e" stroke-width="2.8" stroke-linejoin="round" stroke-linecap="round"/>
<circle cx="611.30" cy="32.00" r="3.85" fill="#fff" stroke="#e34a4e" stroke-width="2.8"/>
<circle cx="611.30" cy="36.00" r="3.85" fill="#fff" stroke="#e34a4e" stroke-width="2.8"/>
<circle cx="611.30" cy="40.00" r="3.85" fill="#fff" stroke="#e34a4e" stroke-width="2.8"/>
<circle cx="611.30" cy="43.50" r="3.85" fill="#fff" stroke="#e34a4e" stroke-width="2.8"/>
<circle cx="611.30" cy="46.70" r="3.85" fill="#fff" stroke="#e34a4e" stroke-width="2.8"/>
<circle cx="611.30" cy="52.70" r="3.85" fill="#fff" stroke="#e34a4e" stroke-width="2.8"/>
<circle cx="611.30" cy="59.00" r="3.85" fill="#fff" stroke="#e34a4e" stroke-width="2.8"/>
<circle cx="611.30" cy="68.30" r="3.85" fill="#fff" stroke="#e34a4e" stroke-width="2.8"/>
<circle cx="611.30" cy="78.00" r="3.85" fill="#fff" stroke="#e34a4e" stroke-width="2.8"/>
<circle cx="611.30" cy="87.90" r="3.85" fill="#fff" stroke="#e34a4e" stroke-width="2.8"/>
<circle cx="611.30" cy="98.80" r="3.85" fill="#fff" stroke="#e34a4e" stroke-width="2.8"/>
<circle cx="611.30" cy="104.30" r="3.85" fill="#fff" stroke="#e34a4e" stroke-width="2.8"/>
<circle cx="611.30" cy="110.30" r="3.85" fill="#fff" stroke="#e34a4e" stroke-width="2.8"/>
<circle cx="611.30" cy="116.80" r="3.85" fill="#fff" stroke="#e34a4e" stroke-width="2.8"/>
<circle cx="611.30" cy="126.70" r="3.85" fill="#fff" stroke="#e34a4e" stroke-width="2.8"/>
<circle cx="611.30" cy="138.70" r="3.85" fill="#fff" stroke="#e34a4e" stroke-width="2.8"/>
<circle cx="611.30" cy="150.00" r="3.85" fill="#fff" stroke="#e34a4e" stroke-width="2.8"/>
<circle cx="611.30" cy="161.50" r="3.85" fill="#fff" stroke="#e34a4e" stroke-width="2.8"/>
<circle cx="627.00" cy="171.50" r="3.85" fill="#fff" stroke="#e34a4e" stroke-width="2.8"/>
<circle cx="638.50" cy="195.00" r="3.85" fill="#fff" stroke="#e34a4e" stroke-width="2.8"/>
<circle cx="638.50" cy="203.00" r="3.85" fill="#fff" stroke="#e34a4e" stroke-width="2.8"/>
<circle cx="638.50" cy="210.00" r="3.85" fill="#fff" stroke="#e34a4e" stroke-width="2.8"/>
<circle cx="676.00" cy="223.20" r="3.85" fill="#fff" stroke="#e34a4e" stroke-width="2.8"/>
<path d="M611.60,32.30 L611.60,33.30 L611.60,34.50 L611.60,36.00 L611.60,37.50 L611.60,39.50 L611.60,41.50 L611.60,44.50 L611.60,50.80 L611.60,56.80 L611.60,64.30 L611.60,73.50 L611.60,83.10 L611.60,96.50 L611.60,102.00 L611.60,107.20 L611.60,113.00 L611.60,122.30 L611.60,133.20 L611.60,149.60 L627.50,160.50 L627.50,166.80 L638.50,191.70 L638.50,198.80 L638.50,205.20 L676.80,222.30" fill="none" stroke="#64be67" stroke-width="2.8" stroke-linejoin="round" stroke-linecap="round"/>
<path d="M611.60,27.15L615.60,32.30L611.60,37.45L607.60,32.30Z" fill="#fff" stroke="#64be67" stroke-width="2.8" stroke-linejoin="miter"/>
<path d="M611.60,28.15L615.60,33.30L611.60,38.45L607.60,33.30Z" fill="#fff" stroke="#64be67" stroke-width="2.8" stroke-linejoin="miter"/>
<path d="M611.60,29.35L615.60,34.50L611.60,39.65L607.60,34.50Z" fill="#fff" stroke="#64be67" stroke-width="2.8" stroke-linejoin="miter"/>
<path d="M611.60,30.85L615.60,36.00L611.60,41.15L607.60,36.00Z" fill="#fff" stroke="#64be67" stroke-width="2.8" stroke-linejoin="miter"/>
<path d="M611.60,32.35L615.60,37.50L611.60,42.65L607.60,37.50Z" fill="#fff" stroke="#64be67" stroke-width="2.8" stroke-linejoin="miter"/>
<path d="M611.60,34.35L615.60,39.50L611.60,44.65L607.60,39.50Z" fill="#fff" stroke="#64be67" stroke-width="2.8" stroke-linejoin="miter"/>
<path d="M611.60,36.35L615.60,41.50L611.60,46.65L607.60,41.50Z" fill="#fff" stroke="#64be67" stroke-width="2.8" stroke-linejoin="miter"/>
<path d="M611.60,39.35L615.60,44.50L611.60,49.65L607.60,44.50Z" fill="#fff" stroke="#64be67" stroke-width="2.8" stroke-linejoin="miter"/>
<path d="M611.60,45.65L615.60,50.80L611.60,55.95L607.60,50.80Z" fill="#fff" stroke="#64be67" stroke-width="2.8" stroke-linejoin="miter"/>
<path d="M611.60,51.65L615.60,56.80L611.60,61.95L607.60,56.80Z" fill="#fff" stroke="#64be67" stroke-width="2.8" stroke-linejoin="miter"/>
<path d="M611.60,59.15L615.60,64.30L611.60,69.45L607.60,64.30Z" fill="#fff" stroke="#64be67" stroke-width="2.8" stroke-linejoin="miter"/>
<path d="M611.60,68.35L615.60,73.50L611.60,78.65L607.60,73.50Z" fill="#fff" stroke="#64be67" stroke-width="2.8" stroke-linejoin="miter"/>
<path d="M611.60,77.95L615.60,83.10L611.60,88.25L607.60,83.10Z" fill="#fff" stroke="#64be67" stroke-width="2.8" stroke-linejoin="miter"/>
<path d="M611.60,91.35L615.60,96.50L611.60,101.65L607.60,96.50Z" fill="#fff" stroke="#64be67" stroke-width="2.8" stroke-linejoin="miter"/>
<path d="M611.60,96.85L615.60,102.00L611.60,107.15L607.60,102.00Z" fill="#fff" stroke="#64be67" stroke-width="2.8" stroke-linejoin="miter"/>
<path d="M611.60,102.05L615.60,107.20L611.60,112.35L607.60,107.20Z" fill="#fff" stroke="#64be67" stroke-width="2.8" stroke-linejoin="miter"/>
<path d="M611.60,107.85L615.60,113.00L611.60,118.15L607.60,113.00Z" fill="#fff" stroke="#64be67" stroke-width="2.8" stroke-linejoin="miter"/>
<path d="M611.60,117.15L615.60,122.30L611.60,127.45L607.60,122.30Z" fill="#fff" stroke="#64be67" stroke-width="2.8" stroke-linejoin="miter"/>
<path d="M611.60,128.05L615.60,133.20L611.60,138.35L607.60,133.20Z" fill="#fff" stroke="#64be67" stroke-width="2.8" stroke-linejoin="miter"/>
<path d="M611.60,144.45L615.60,149.60L611.60,154.75L607.60,149.60Z" fill="#fff" stroke="#64be67" stroke-width="2.8" stroke-linejoin="miter"/>
<path d="M627.50,155.35L631.50,160.50L627.50,165.65L623.50,160.50Z" fill="#fff" stroke="#64be67" stroke-width="2.8" stroke-linejoin="miter"/>
<path d="M627.50,161.65L631.50,166.80L627.50,171.95L623.50,166.80Z" fill="#fff" stroke="#64be67" stroke-width="2.8" stroke-linejoin="miter"/>
<path d="M638.50,186.55L642.50,191.70L638.50,196.85L634.50,191.70Z" fill="#fff" stroke="#64be67" stroke-width="2.8" stroke-linejoin="miter"/>
<path d="M638.50,193.65L642.50,198.80L638.50,203.95L634.50,198.80Z" fill="#fff" stroke="#64be67" stroke-width="2.8" stroke-linejoin="miter"/>
<path d="M638.50,200.05L642.50,205.20L638.50,210.35L634.50,205.20Z" fill="#fff" stroke="#64be67" stroke-width="2.8" stroke-linejoin="miter"/>
<path d="M676.80,217.15L680.80,222.30L676.80,227.45L672.80,222.30Z" fill="#fff" stroke="#64be67" stroke-width="2.8" stroke-linejoin="miter"/>
<rect x="161.5" y="30.0" width="97.0" height="58.5" fill="#fff"/>
<path d="M161.5,29.5V89.0M161.0,88.5H259.0M258.5,89.0V29.5M259.0,30.0H161.0" fill="none" stroke="#555555" stroke-width="1"/>
<line x1="166.5" y1="40.3" x2="191.7" y2="40.3" stroke="#4f8ac0" stroke-width="2.8"/>
<path d="M176.20,35.50L184.20,40.30L176.20,45.10Z" fill="#fff" stroke="#4f8ac0" stroke-width="2.6" stroke-linejoin="miter"/>
<text transform="translate(202.4,42.7) scale(1.0,1)" font-size="15.5" font-weight="normal" stroke="#111" stroke-width="0.1" fill="#111" font-family="Liberation Sans, sans-serif">&#1108;</text>
<text transform="translate(210.3,44.2) scale(1,0.85)" font-size="9.8" fill="#111" font-family="Liberation Sans, sans-serif">dc</text>
<text x="222.6" y="44.2" font-size="9.8" fill="#111" font-family="Liberation Sans, sans-serif">= 5%</text>
<line x1="166.5" y1="59.1" x2="191.7" y2="59.1" stroke="#e34a4e" stroke-width="2.8"/>
<circle cx="179.10" cy="59.10" r="3.85" fill="#fff" stroke="#e34a4e" stroke-width="2.8"/>
<text transform="translate(202.4,61.5) scale(1.0,1)" font-size="15.5" font-weight="normal" stroke="#111" stroke-width="0.1" fill="#111" font-family="Liberation Sans, sans-serif">&#1108;</text>
<text transform="translate(210.3,63.0) scale(1,0.85)" font-size="9.8" fill="#111" font-family="Liberation Sans, sans-serif">dc</text>
<text x="222.6" y="63.0" font-size="9.8" fill="#111" font-family="Liberation Sans, sans-serif">= 7%</text>
<line x1="166.5" y1="77.9" x2="191.7" y2="77.9" stroke="#64be67" stroke-width="2.8"/>
<path d="M179.10,72.75L183.10,77.90L179.10,83.05L175.10,77.90Z" fill="#fff" stroke="#64be67" stroke-width="2.8" stroke-linejoin="miter"/>
<text transform="translate(202.4,80.3) scale(1.0,1)" font-size="15.5" font-weight="normal" stroke="#111" stroke-width="0.1" fill="#111" font-family="Liberation Sans, sans-serif">&#1108;</text>
<text transform="translate(210.3,81.8) scale(1,0.85)" font-size="9.8" fill="#111" font-family="Liberation Sans, sans-serif">dc</text>
<text x="222.6" y="81.8" font-size="9.8" fill="#111" font-family="Liberation Sans, sans-serif">= 10%</text>
<rect x="421.5" y="33.5" width="97.0" height="58.0" fill="#fff"/>
<path d="M421.5,33.0V92.0M421.0,91.5H519.0M518.5,92.0V33.0M519.0,33.5H421.0" fill="none" stroke="#555555" stroke-width="1"/>
<line x1="426" y1="43.3" x2="450.7" y2="43.3" stroke="#4f8ac0" stroke-width="2.8"/>
<path d="M435.45,38.50L443.45,43.30L435.45,48.10Z" fill="#fff" stroke="#4f8ac0" stroke-width="2.6" stroke-linejoin="miter"/>
<text transform="translate(461.8,46.7) scale(1.16,1)" font-size="14.0" font-weight="normal" stroke="#111" stroke-width="0.1" fill="#111" font-family="Liberation Sans, sans-serif">&#963;</text>
<text transform="translate(470.8,47.7) scale(1,1.0)" font-size="8.8" fill="#111" font-family="Liberation Sans, sans-serif">r</text>
<text x="476.3" y="47.7" font-size="9.8" fill="#111" font-family="Liberation Sans, sans-serif">= 15%</text>
<line x1="426" y1="62.1" x2="450.7" y2="62.1" stroke="#e34a4e" stroke-width="2.8"/>
<circle cx="438.35" cy="62.10" r="3.85" fill="#fff" stroke="#e34a4e" stroke-width="2.8"/>
<text transform="translate(461.8,65.5) scale(1.16,1)" font-size="14.0" font-weight="normal" stroke="#111" stroke-width="0.1" fill="#111" font-family="Liberation Sans, sans-serif">&#963;</text>
<text transform="translate(470.8,66.5) scale(1,1.0)" font-size="8.8" fill="#111" font-family="Liberation Sans, sans-serif">r</text>
<text x="476.3" y="66.5" font-size="9.8" fill="#111" font-family="Liberation Sans, sans-serif">= 22%</text>
<line x1="426" y1="80.7" x2="450.7" y2="80.7" stroke="#64be67" stroke-width="2.8"/>
<path d="M438.35,75.55L442.35,80.70L438.35,85.85L434.35,80.70Z" fill="#fff" stroke="#64be67" stroke-width="2.8" stroke-linejoin="miter"/>
<text transform="translate(461.8,84.1) scale(1.16,1)" font-size="14.0" font-weight="normal" stroke="#111" stroke-width="0.1" fill="#111" font-family="Liberation Sans, sans-serif">&#963;</text>
<text transform="translate(470.8,85.1) scale(1,1.0)" font-size="8.8" fill="#111" font-family="Liberation Sans, sans-serif">r</text>
<text x="476.3" y="85.1" font-size="9.8" fill="#111" font-family="Liberation Sans, sans-serif">= 50%</text>
<rect x="688.5" y="33.5" width="88.0" height="58.0" fill="#fff"/>
<path d="M688.5,33.0V92.0M688.0,91.5H777.0M776.5,92.0V33.0M777.0,33.5H688.0" fill="none" stroke="#555555" stroke-width="1"/>
<line x1="693.3" y1="43.3" x2="717.7" y2="43.3" stroke="#4f8ac0" stroke-width="2.8"/>
<path d="M702.60,38.50L710.60,43.30L702.60,48.10Z" fill="#fff" stroke="#4f8ac0" stroke-width="2.6" stroke-linejoin="miter"/>
<text transform="translate(722.8,47.0) scale(1.16,1)" font-size="14.0" font-weight="normal" stroke="#111" stroke-width="0.1" fill="#111" font-family="Liberation Sans, sans-serif">&#963;</text>
<text transform="translate(732.5,48.2) scale(1,1.0)" font-size="9.6" fill="#111" font-family="Liberation Sans, sans-serif">fpn</text>
<text x="748.4" y="48.2" font-size="9.9" fill="#111" font-family="Liberation Sans, sans-serif">= 1%</text>
<line x1="693.3" y1="62.3" x2="717.7" y2="62.3" stroke="#e34a4e" stroke-width="2.8"/>
<circle cx="705.50" cy="62.30" r="3.85" fill="#fff" stroke="#e34a4e" stroke-width="2.8"/>
<text transform="translate(722.8,66.0) scale(1.16,1)" font-size="14.0" font-weight="normal" stroke="#111" stroke-width="0.1" fill="#111" font-family="Liberation Sans, sans-serif">&#963;</text>
<text transform="translate(732.5,67.2) scale(1,1.0)" font-size="9.6" fill="#111" font-family="Liberation Sans, sans-serif">fpn</text>
<text x="748.4" y="67.2" font-size="9.9" fill="#111" font-family="Liberation Sans, sans-serif">= 3%</text>
<line x1="693.3" y1="80.5" x2="717.7" y2="80.5" stroke="#64be67" stroke-width="2.8"/>
<path d="M705.50,75.35L709.50,80.50L705.50,85.65L701.50,80.50Z" fill="#fff" stroke="#64be67" stroke-width="2.8" stroke-linejoin="miter"/>
<text transform="translate(722.8,84.2) scale(1.16,1)" font-size="14.0" font-weight="normal" stroke="#111" stroke-width="0.1" fill="#111" font-family="Liberation Sans, sans-serif">&#963;</text>
<text transform="translate(732.5,85.4) scale(1,1.0)" font-size="9.6" fill="#111" font-family="Liberation Sans, sans-serif">fpn</text>
<text x="745.6" y="85.4" font-size="9.9" fill="#111" font-family="Liberation Sans, sans-serif">=10%</text>
<text x="16.0" y="23.0" font-size="19.6" fill="#2e2e2e" font-family="Liberation Sans, sans-serif" fill-opacity="0.92">a<tspan dx="0.2">)</tspan></text>
<text x="289.3" y="24.0" font-size="19.6" fill="#2e2e2e" font-family="Liberation Sans, sans-serif" fill-opacity="0.92">b<tspan dx="1.0">)</tspan></text>
<text x="553.0" y="23.9" font-size="19.6" fill="#2e2e2e" font-family="Liberation Sans, sans-serif" fill-opacity="0.92">c<tspan dx="1.8">)</tspan></text>
<text x="113.2" y="21.6" font-size="14.75" fill="#2e2e2e" font-family="Liberation Sans, sans-serif" >Dark current</text>
<text x="390.2" y="21.6" font-size="14.75" fill="#2e2e2e" font-family="Liberation Sans, sans-serif" >Read noise</text>
<text x="628.6" y="21.5" font-size="14.75" fill="#2e2e2e" font-family="Liberation Sans, sans-serif" >Fixed pattern noise</text>
<text x="124.0" y="239.3" font-size="14.3" fill="#2e2e2e" font-family="Liberation Sans, sans-serif" >Median PPP</text>
<text x="388.3" y="240.4" font-size="14.3" fill="#2e2e2e" font-family="Liberation Sans, sans-serif" >Median PPP</text>
<text x="651.2" y="240.5" font-size="14.3" fill="#2e2e2e" font-family="Liberation Sans, sans-serif" >Median PPP</text>
<text transform="translate(18.7,177.6) rotate(-90)" font-size="15.6" fill="#444" font-family="Liberation Sans, sans-serif">Error rate (ER)</text>
</svg></body></html>
